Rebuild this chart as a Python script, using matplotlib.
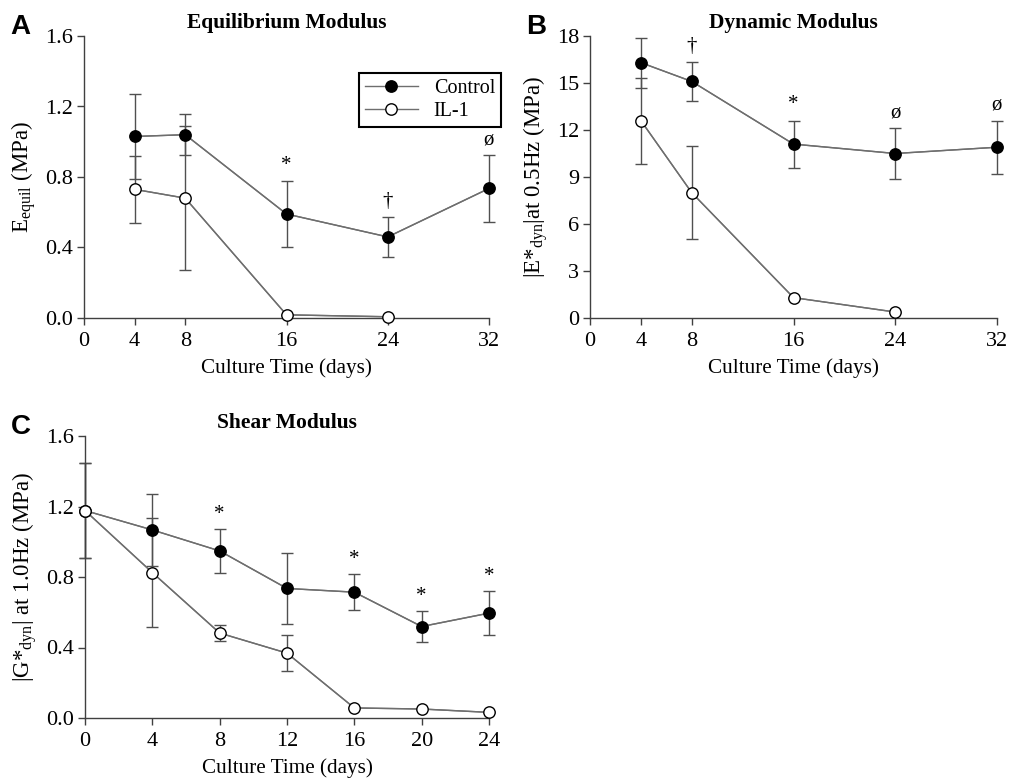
import matplotlib
matplotlib.use("Agg")
import matplotlib.pyplot as plt

plt.rcParams['font.family'] = ['Liberation Serif', 'DejaVu Serif']
plt.rcParams['mathtext.default'] = 'regular'

# Panel A: Equilibrium modulus
days_a = [4, 8, 16, 24, 32]
ctrl_a = [1.03, 1.04, 0.59, 0.46, 0.735]
ctrl_a_err = [0.24, 0.115, 0.19, 0.115, 0.19]
il1_days_a = [4, 8, 16, 24]
il1_a = [0.73, 0.68, 0.018, 0.007]
il1_a_err = [0.19, 0.41, 0.0, 0.0]
sig_a = [(16, '*'), (24, '†'), (32, 'ø')]

# Panel B: Dynamic modulus
days_b = [4, 8, 16, 24, 32]
ctrl_b = [16.3, 15.1, 11.1, 10.5, 10.9]
ctrl_b_err = [1.6, 1.25, 1.5, 1.6, 1.7]
il1_days_b = [4, 8, 16, 24]
il1_b = [12.6, 8.0, 1.3, 0.38]
il1_b_err = [2.75, 2.97, 0.0, 0.0]
sig_b = [(8, '†'), (16, '*'), (24, 'ø'), (32, 'ø')]

# Panel C: Shear modulus
days_c = [0, 4, 8, 12, 16, 20, 24]
ctrl_c = [1.177, 1.067, 0.948, 0.735, 0.714, 0.519, 0.595]
ctrl_c_err = [0.27, 0.206, 0.125, 0.204, 0.103, 0.087, 0.125]
il1_c = [1.177, 0.825, 0.482, 0.368, 0.057, 0.051, 0.032]
il1_c_err = [0.27, 0.31, 0.047, 0.104, 0.0, 0.0, 0.0]
sig_c = [(8, '*'), (16, '*'), (20, '*'), (24, '*')]

LINE = '#6e6e6e'
ERR = '#505050'
W, H = 1009, 778

fig = plt.figure(figsize=(W / 100, H / 100), dpi=100)


def px_axes(l, r, t, b):
    return fig.add_axes([l / W, 1 - b / H, (r - l) / W, (b - t) / H])


def draw(ax, xc, yc, ec, xi, yi, ei):
    ax.errorbar(xc, yc, yerr=ec, fmt='-', color=LINE, lw=1.0, ecolor=ERR,
                elinewidth=1.0, capsize=4, capthick=1.0, zorder=2, clip_on=False)
    ax.plot(xc, yc, 'o', color=LINE, mfc='black', mec='black', ms=8.2, mew=1.0,
            zorder=4, clip_on=False, ls='-', lw=1.0, label='Control')
    ax.errorbar(xi, yi, yerr=ei, fmt='-', color=LINE, lw=1.0, ecolor=ERR,
                elinewidth=1.0, capsize=4, capthick=1.0, zorder=2, clip_on=False)
    ax.plot(xi, yi, 'o', color=LINE, mfc='white', mec='black', ms=8.2, mew=1.0,
            zorder=5, clip_on=False, ls='-', lw=1.0, label='IL-1')


def style(ax, xlim, xticks, ylim, yticks, yfmt):
    ax.set_xlim(*xlim)
    ax.set_ylim(*ylim)
    ax.set_xticks(xticks)
    ax.set_yticks(yticks)
    ax.set_yticklabels([yfmt.format(v) for v in yticks])
    for s in ['top', 'right']:
        ax.spines[s].set_visible(False)
    for s in ['left', 'bottom']:
        ax.spines[s].set_color('#404040')
        ax.spines[s].set_linewidth(1.0)
    ax.tick_params(direction='out', length=5, width=1.0, color='#404040',
                   labelsize=16)
    ax.tick_params(axis='x', pad=5)
    ax.tick_params(axis='y', pad=3)
    ax.set_xlabel('Culture Time (days)', fontsize=15.2, labelpad=5)


def sig(ax, items, xs, ys, errs, offset):
    for d, s in items:
        i = xs.index(d)
        top = ys[i] + errs[i]
        ax.text(d, top + offset, s, ha='center', va='bottom', fontsize=15)


# Panel A
axA = px_axes(84, 489, 36, 318)
draw(axA, days_a, ctrl_a, ctrl_a_err, il1_days_a, il1_a, il1_a_err)
style(axA, (0, 32), [0, 4, 8, 16, 24, 32], (0, 1.6), [0, 0.4, 0.8, 1.2, 1.6], '{:.1f}')
axA.set_ylabel('E$_{equil}$ (MPa)', fontsize=16.5, labelpad=5)
axA.set_title('Equilibrium Modulus', fontsize=15.5, fontweight='bold', pad=6)
sig(axA, sig_a, days_a, ctrl_a, ctrl_a_err, 0.03)
leg = axA.legend(loc='upper right', bbox_to_anchor=(1.03, 0.869), fontsize=14.5,
                 frameon=True, fancybox=False, framealpha=1, edgecolor='black',
                 handlelength=2.6, handletextpad=0.8, borderpad=0.3,
                 labelspacing=0.2, borderaxespad=0)
leg.get_frame().set_linewidth(1.5)

# Panel B
axB = px_axes(590, 997, 36, 318)
draw(axB, days_b, ctrl_b, ctrl_b_err, il1_days_b, il1_b, il1_b_err)
style(axB, (0, 32), [0, 4, 8, 16, 24, 32], (0, 18), [0, 3, 6, 9, 12, 15, 18], '{:d}')
axB.set_ylabel('|E*$_{dyn}$|at 0.5Hz (MPa)', fontsize=16.5, labelpad=5)
axB.set_title('Dynamic Modulus', fontsize=15.5, fontweight='bold', pad=6)
sig(axB, sig_b, days_b, ctrl_b, ctrl_b_err, 0.4)

# Panel C
axC = px_axes(85, 489, 436, 718)
draw(axC, days_c, ctrl_c, ctrl_c_err, days_c, il1_c, il1_c_err)
style(axC, (0, 24), [0, 4, 8, 12, 16, 20, 24], (0, 1.6), [0, 0.4, 0.8, 1.2, 1.6], '{:.1f}')
axC.set_ylabel('|G*$_{dyn}$| at 1.0Hz (MPa)', fontsize=16.5, labelpad=5)
axC.set_title('Shear Modulus', fontsize=15.5, fontweight='bold', pad=6)
sig(axC, sig_c, days_c, ctrl_c, ctrl_c_err, 0.03)

# Panel letters
for lbl, x, y in [('A', 10, 14), ('B', 526, 14), ('C', 11, 414)]:
    fig.text(x / W, 1 - y / H, lbl, fontsize=20, fontweight='bold',
             family='Liberation Sans', ha='left', va='top')

fig.savefig('out.png', dpi=100)
